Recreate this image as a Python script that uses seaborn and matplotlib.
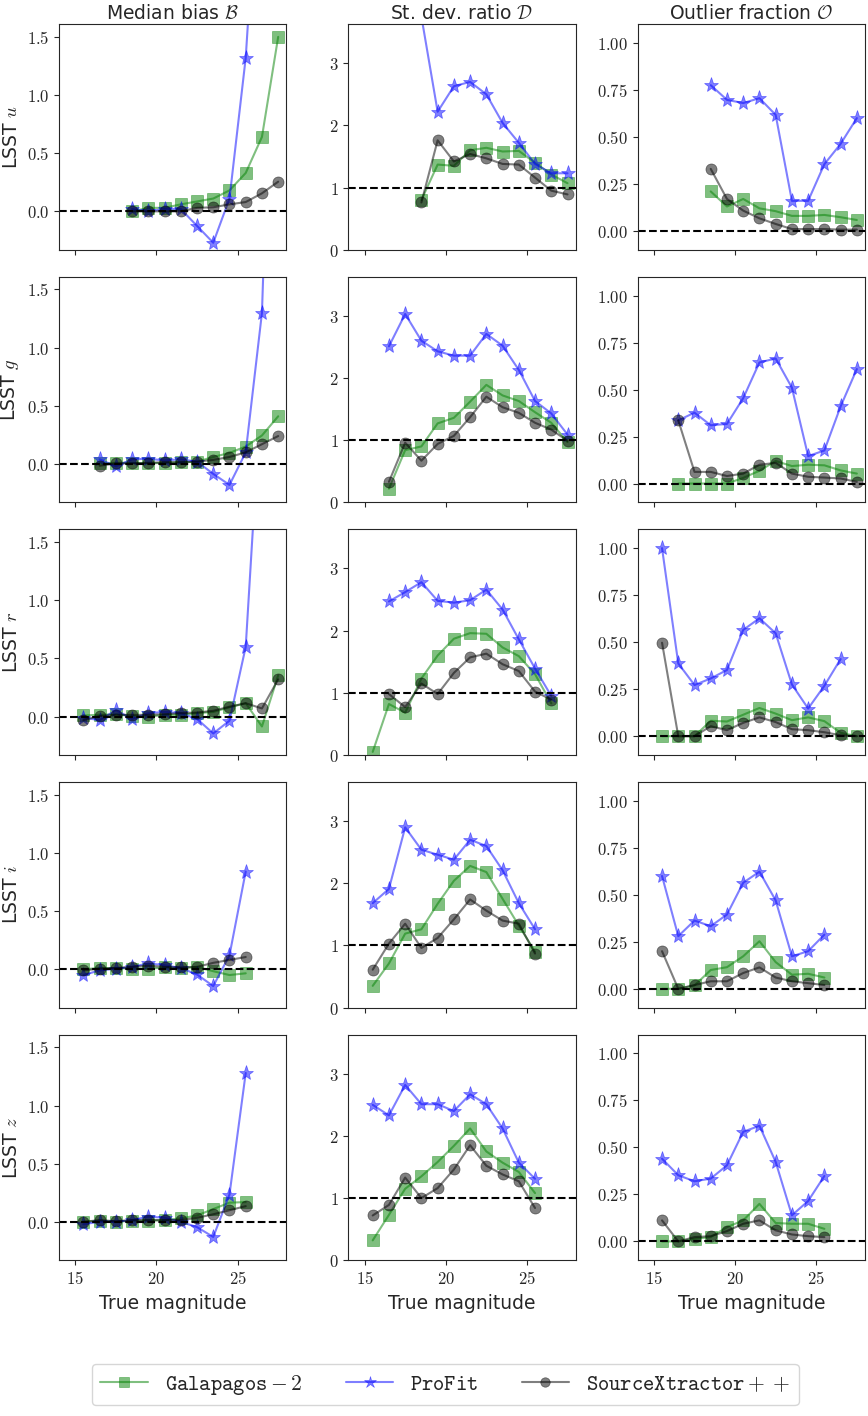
import numpy as np
import pandas as pd
import seaborn as sns
import matplotlib
matplotlib.use('Agg')
import matplotlib.pyplot as plt
from matplotlib.ticker import FuncFormatter

# ---- data ----
bands = ['u', 'g', 'r', 'i', 'z']
codes = ['Galapagos-2', 'ProFit', 'SourceXtractor++']
nan = np.nan

# true-magnitude bins (bin centres)
mag_u = [18.5, 19.5, 20.5, 21.5, 22.5, 23.5, 24.5, 25.5, 26.5, 27.5]
mag_g = [16.5, 17.5, 18.5, 19.5, 20.5, 21.5, 22.5, 23.5, 24.5, 25.5, 26.5, 27.5]
mag_r = [15.5, 16.5, 17.5, 18.5, 19.5, 20.5, 21.5, 22.5, 23.5, 24.5, 25.5, 26.5, 27.5]
mag_i = [15.5, 16.5, 17.5, 18.5, 19.5, 20.5, 21.5, 22.5, 23.5, 24.5, 25.5]
mag_z = [15.5, 16.5, 17.5, 18.5, 19.5, 20.5, 21.5, 22.5, 23.5, 24.5, 25.5]

# median bias B
bias_gal_u = [0.0, 0.03, 0.03, 0.06, 0.085, 0.11, 0.18, 0.33, 0.64, 1.5]
bias_pro_u = [0.02, 0.0, 0.02, 0.02, -0.125, -0.27, 0.11, 1.32, 3.5, nan]
bias_sex_u = [0.0, 0.0, 0.0, 0.0, 0.03, 0.035, 0.06, 0.08, 0.155, 0.255]
bias_gal_g = [0.005, 0.01, 0.01, 0.005, 0.01, 0.015, 0.02, 0.06, 0.095, 0.15, 0.245, 0.41]
bias_pro_g = [0.04, -0.02, 0.04, 0.045, 0.03, 0.04, 0.02, -0.085, -0.18, 0.1, 1.30, 5.5]
bias_sex_g = [-0.015, 0.005, 0.005, 0.01, 0.015, 0.015, 0.02, 0.035, 0.06, 0.1, 0.17, 0.24]
bias_gal_r = [0.01, 0.015, 0.02, 0.005, 0.0, 0.015, 0.015, 0.03, 0.04, 0.08, 0.115, -0.085, 0.355]
bias_pro_r = [-0.01, -0.03, 0.055, -0.02, 0.03, 0.04, 0.03, -0.02, -0.145, -0.035, 0.6, 2.9, nan]
bias_sex_r = [-0.03, 0.005, 0.015, 0.015, 0.015, 0.02, 0.03, 0.035, 0.05, 0.085, 0.115, 0.07, 0.32]
bias_gal_i = [0.0, 0.01, 0.01, 0.005, 0.005, 0.015, 0.01, 0.02, -0.017, -0.05, -0.035]
bias_pro_i = [-0.05, -0.01, 0.005, 0.02, 0.05, 0.035, 0.01, -0.045, -0.145, 0.12, 0.84]
bias_sex_i = [-0.01, 0.005, 0.01, 0.02, 0.03, 0.02, 0.015, 0.02, 0.055, 0.08, 0.105]
bias_gal_z = [0.0, 0.01, 0.0, 0.01, 0.01, 0.015, 0.03, 0.055, 0.11, 0.165, 0.17]
bias_pro_z = [-0.02, 0.0, 0.0, 0.015, 0.045, 0.035, 0.0, -0.045, -0.13, 0.235, 1.28]
bias_sex_z = [0.0, 0.015, 0.005, 0.015, 0.015, 0.015, 0.015, 0.035, 0.065, 0.1, 0.135]

# st. dev. ratio D
sdr_gal_u = [0.80, 1.37, 1.35, 1.60, 1.64, 1.58, 1.59, 1.40, 1.21, 1.07]
sdr_pro_u = [3.75, 2.22, 2.63, 2.70, 2.50, 2.04, 1.72, 1.38, 1.23, 1.23]
sdr_sex_u = [0.76, 1.76, 1.42, 1.54, 1.47, 1.38, 1.37, 1.16, 0.95, 0.89]
sdr_gal_g = [0.22, 0.84, 0.90, 1.27, 1.36, 1.62, 1.89, 1.72, 1.63, 1.45, 1.28, 0.97]
sdr_pro_g = [2.51, 3.03, 2.60, 2.43, 2.36, 2.36, 2.71, 2.52, 2.13, 1.63, 1.43, 1.09]
sdr_sex_g = [0.33, 0.96, 0.67, 0.94, 1.07, 1.37, 1.70, 1.53, 1.44, 1.28, 1.17, 0.99]
sdr_gal_r = [0.05, 0.82, 0.68, 1.23, 1.60, 1.87, 1.96, 1.95, 1.73, 1.59, 1.30, 0.83, nan]
sdr_pro_r = [nan, 2.47, 2.62, 2.78, 2.48, 2.45, 2.49, 2.66, 2.34, 1.86, 1.39, 0.95, nan]
sdr_sex_r = [nan, 0.98, 0.77, 1.15, 0.98, 1.32, 1.57, 1.63, 1.46, 1.35, 1.02, 0.89, nan]
sdr_gal_i = [0.35, 0.71, 1.19, 1.26, 1.67, 2.04, 2.28, 2.18, 1.75, 1.32, 0.90]
sdr_pro_i = [1.68, 1.91, 2.90, 2.54, 2.46, 2.38, 2.70, 2.60, 2.21, 1.68, 1.26]
sdr_sex_i = [0.61, 1.03, 1.35, 0.96, 1.12, 1.42, 1.74, 1.56, 1.40, 1.35, 0.87]
sdr_gal_z = [0.32, 0.73, 1.15, 1.35, 1.58, 1.84, 2.12, 1.75, 1.57, 1.42, 1.08]
sdr_pro_z = [2.50, 2.33, 2.82, 2.51, 2.51, 2.40, 2.67, 2.51, 2.12, 1.57, 1.31]
sdr_sex_z = [0.72, 0.89, 1.33, 1.00, 1.16, 1.46, 1.85, 1.52, 1.38, 1.27, 0.84]

# outlier fraction O
out_gal_u = [0.21, 0.13, 0.17, 0.12, 0.105, 0.08, 0.08, 0.085, 0.073, 0.058]
out_pro_u = [0.775, 0.697, 0.68, 0.706, 0.617, 0.16, 0.16, 0.355, 0.463, 0.60]
out_sex_u = [0.33, 0.17, 0.108, 0.067, 0.037, 0.01, 0.01, 0.01, 0.007, 0.007]
out_gal_g = [0.0, 0.0, 0.0, 0.0, 0.03, 0.068, 0.12, 0.093, 0.10, 0.097, 0.07, 0.053]
out_pro_g = [0.336, 0.377, 0.31, 0.317, 0.454, 0.644, 0.665, 0.51, 0.146, 0.176, 0.41, 0.609]
out_sex_g = [0.336, 0.062, 0.062, 0.04, 0.053, 0.10, 0.11, 0.053, 0.036, 0.032, 0.027, 0.009]
out_gal_r = [0.0, 0.0, 0.0, 0.082, 0.078, 0.114, 0.15, 0.12, 0.085, 0.10, 0.08, 0.018, 0.0]
out_pro_r = [1.0, 0.387, 0.272, 0.307, 0.352, 0.565, 0.627, 0.547, 0.275, 0.147, 0.268, 0.41, nan]
out_sex_r = [0.497, 0.0, 0.0, 0.053, 0.032, 0.071, 0.10, 0.075, 0.037, 0.032, 0.021, 0.005, 0.0]
out_gal_i = [0.0, 0.0, 0.018, 0.10, 0.115, 0.173, 0.253, 0.142, 0.075, 0.08, 0.06]
out_pro_i = [0.60, 0.28, 0.363, 0.333, 0.395, 0.564, 0.623, 0.47, 0.173, 0.20, 0.288]
out_sex_i = [0.20, 0.0, 0.02, 0.04, 0.04, 0.084, 0.114, 0.06, 0.04, 0.03, 0.02]
out_gal_z = [0.0, 0.0, 0.014, 0.023, 0.076, 0.112, 0.20, 0.098, 0.094, 0.094, 0.067]
out_pro_z = [0.44, 0.352, 0.32, 0.334, 0.405, 0.583, 0.615, 0.423, 0.139, 0.215, 0.348]
out_sex_z = [0.112, 0.0, 0.023, 0.028, 0.055, 0.094, 0.112, 0.059, 0.037, 0.028, 0.023]

mags = {'u': mag_u, 'g': mag_g, 'r': mag_r, 'i': mag_i, 'z': mag_z}
bias = {
    'Galapagos-2': [bias_gal_u, bias_gal_g, bias_gal_r, bias_gal_i, bias_gal_z],
    'ProFit': [bias_pro_u, bias_pro_g, bias_pro_r, bias_pro_i, bias_pro_z],
    'SourceXtractor++': [bias_sex_u, bias_sex_g, bias_sex_r, bias_sex_i, bias_sex_z],
}
sdr = {
    'Galapagos-2': [sdr_gal_u, sdr_gal_g, sdr_gal_r, sdr_gal_i, sdr_gal_z],
    'ProFit': [sdr_pro_u, sdr_pro_g, sdr_pro_r, sdr_pro_i, sdr_pro_z],
    'SourceXtractor++': [sdr_sex_u, sdr_sex_g, sdr_sex_r, sdr_sex_i, sdr_sex_z],
}
outl = {
    'Galapagos-2': [out_gal_u, out_gal_g, out_gal_r, out_gal_i, out_gal_z],
    'ProFit': [out_pro_u, out_pro_g, out_pro_r, out_pro_i, out_pro_z],
    'SourceXtractor++': [out_sex_u, out_sex_g, out_sex_r, out_sex_i, out_sex_z],
}

# long table
rows = []
for metric, tab in [('bias', bias), ('sdr', sdr), ('out', outl)]:
    for code in codes:
        for b, vals in zip(bands, tab[code]):
            for m, v in zip(mags[b], vals):
                rows.append((metric, code, b, m, v))
df = pd.DataFrame(rows, columns=['metric', 'code', 'band', 'mag', 'value']).dropna()

# ---- style ----
sns.set_style('ticks')
plt.rcParams['font.family'] = ['DejaVu Sans']
plt.rcParams['mathtext.fontset'] = 'cm'

colors = {'Galapagos-2': 'green', 'ProFit': 'blue', 'SourceXtractor++': 'black'}
markers = {'Galapagos-2': 's', 'ProFit': '*', 'SourceXtractor++': 'o'}
msizes = {'Galapagos-2': 8, 'ProFit': 11, 'SourceXtractor++': 8}
labels = {'Galapagos-2': r'$\mathtt{Galapagos}-2$', 'ProFit': r'$\mathtt{ProFit}$',
          'SourceXtractor++': r'$\mathtt{SourceXtractor}++$'}

metrics = ['bias', 'sdr', 'out']
titles = [r'Median bias $\mathcal{B}$', r'St. dev. ratio $\mathcal{D}$',
          r'Outlier fraction $\mathcal{O}$']
ylims = [(-0.33, 1.61), (0, 3.63), (-0.1, 1.1)]
yticks = [[0.0, 0.5, 1.0, 1.5], [0, 1, 2, 3], [0.0, 0.25, 0.5, 0.75, 1.0]]
yfmt = ['{:.1f}', '{:.0f}', '{:.2f}']
ref = [0.0, 1.0, 0.0]

fig, axes = plt.subplots(5, 3, figsize=(8.68, 14.16), dpi=100, sharex=True)
fig.subplots_adjust(left=0.068, right=0.9965, top=0.983, bottom=0.110,
                    wspace=0.273, hspace=0.1195)

for i, b in enumerate(bands):
    for j, met in enumerate(metrics):
        ax = axes[i, j]
        sub = df[(df.band == b) & (df.metric == met)]
        for code in codes:
            d = sub[sub.code == code]
            sns.lineplot(data=d, x='mag', y='value', ax=ax, color=colors[code],
                         marker=markers[code], markersize=msizes[code],
                         markeredgecolor=colors[code], markeredgewidth=0.5,
                         alpha=0.5, lw=1.5, errorbar=None, label=labels[code],
                         legend=False)
        ax.axhline(ref[j], color='black', ls='--', lw=1.5)
        ax.set_xlim(14, 28)
        ax.set_ylim(*ylims[j])
        ax.set_yticks(yticks[j])
        f = yfmt[j]
        ax.yaxis.set_major_formatter(FuncFormatter(lambda v, p, f=f: '$' + f.format(v) + '$'))
        ax.set_xticks([15, 20, 25])
        ax.xaxis.set_major_formatter(FuncFormatter(lambda v, p: '$%d$' % v))
        ax.tick_params(labelsize=12)
        ax.set_ylabel('')
        ax.set_xlabel('')
        if i == 0:
            ax.set_title(titles[j], fontsize=13.5, pad=4)
        if j == 0:
            ax.set_ylabel('LSST $%s$' % b, fontsize=13.5)
        if i == 4:
            ax.set_xlabel('True magnitude', fontsize=13.5)

handles, labs = axes[0, 0].get_legend_handles_labels()
fig.legend(handles, labs, loc='lower center', bbox_to_anchor=(0.513, 0.0), ncol=3,
           fontsize=15.5, frameon=True, fancybox=True, columnspacing=2.0,
           handlelength=2.2, markerscale=0.85)

fig.savefig('out.png', dpi=100)
